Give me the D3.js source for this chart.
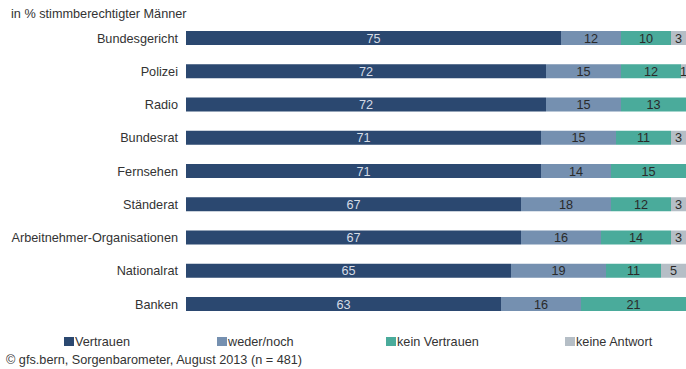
<!DOCTYPE html>
<meta charset="utf-8">
<script src="https://cdn.jsdelivr.net/npm/d3@7"></script>
<style>
  body { margin: 0; background: #fff; }
  text { font-family: "Liberation Sans", Arial, sans-serif; }
</style>
<body>
<script>

// Data
var categories = ["Bundesgericht", "Polizei", "Radio", "Bundesrat", "Fernsehen",
                  "Ständerat", "Arbeitnehmer-Organisationen", "Nationalrat", "Banken"];
var seriesNames = ["Vertrauen", "weder/noch", "kein Vertrauen", "keine Antwort"];
var vertrauen    = [75, 72, 72, 71, 71, 67, 67, 65, 63];
var wederNoch    = [12, 15, 15, 15, 14, 18, 16, 19, 16];
var keinVertrauen = [10, 12, 13, 11, 15, 12, 14, 11, 21];
var keineAntwort = [3, 1, 0, 3, 0, 3, 3, 5, 0];

var colors = ["#2b4870", "#7590b0", "#4aab9b", "#b5bec6"];
var labelColors = ["#d5dce6", "#2a2a2a", "#2a2a2a", "#2a2a2a"];
var fs = "12.7px";

var width = 686, height = 369;

var svg = d3.select("body").append("svg")
    .attr("width", width)
    .attr("height", height);

var x = d3.scaleLinear().domain([0, 100]).range([186, 686]);
var y = d3.scalePoint().domain(categories).range([38, 304]);
var barH = 14;

// Build stacked rows
var rows = categories.map(function(c, i) {
  return {cat: c, values: [vertrauen[i], wederNoch[i], keinVertrauen[i], keineAntwort[i]]};
});
var stack = d3.stack().keys([0, 1, 2, 3]).value(function(d, k) { return d.values[k]; });
var series = stack(rows);

var groups = svg.selectAll(".series")
    .data(series)
  .enter().append("g")
    .attr("class", "series")
    .attr("fill", function(d, i) { return colors[i]; });

groups.selectAll("rect")
    .data(function(d) { return d; })
  .enter().append("rect")
    .filter(function(d) { return d[1] > d[0]; })
    .attr("x", function(d) { return x(d[0]); })
    .attr("y", function(d) { return y(d.data.cat) - barH / 2; })
    .attr("width", function(d) { return x(d[1]) - x(d[0]); })
    .attr("height", barH);

// Value labels
series.forEach(function(s, i) {
  svg.append("g").selectAll("text")
      .data(s.filter(function(d) { return d[1] > d[0]; }))
    .enter().append("text")
      .attr("x", function(d) { return (x(d[0]) + x(d[1])) / 2; })
      .attr("y", function(d) { return y(d.data.cat); })
      .attr("dy", "0.36em")
      .attr("text-anchor", "middle")
      .attr("font-size", fs)
      .attr("fill", labelColors[i])
      .text(function(d) { return d[1] - d[0]; });
});

// Category labels
svg.append("g").selectAll("text")
    .data(categories)
  .enter().append("text")
    .attr("x", 178)
    .attr("y", function(d) { return y(d); })
    .attr("dy", "0.36em")
    .attr("text-anchor", "end")
    .attr("font-size", fs)
    .attr("fill", "#333")
    .text(function(d) { return d; });

// Title
svg.append("text")
    .attr("x", 11)
    .attr("y", 18)
    .attr("font-size", fs)
    .attr("fill", "#333")
    .text("in % stimmberechtigter Männer");

// Legend
var legendX = [64, 217, 386, 565];
var legend = svg.append("g").selectAll("g")
    .data(seriesNames)
  .enter().append("g")
    .attr("transform", function(d, i) { return "translate(" + legendX[i] + ",337)"; });
legend.append("rect")
    .attr("width", 10)
    .attr("height", 9)
    .attr("fill", function(d, i) { return colors[i]; });
legend.append("text")
    .attr("x", 11)
    .attr("y", 9)
    .attr("font-size", fs)
    .attr("fill", "#333")
    .text(function(d) { return d; });

// Source
svg.append("text")
    .attr("x", 6)
    .attr("y", 364)
    .attr("font-size", fs)
    .attr("fill", "#333")
    .text("© gfs.bern, Sorgenbarometer, August 2013 (n = 481)");

</script>
</body>
</html>
